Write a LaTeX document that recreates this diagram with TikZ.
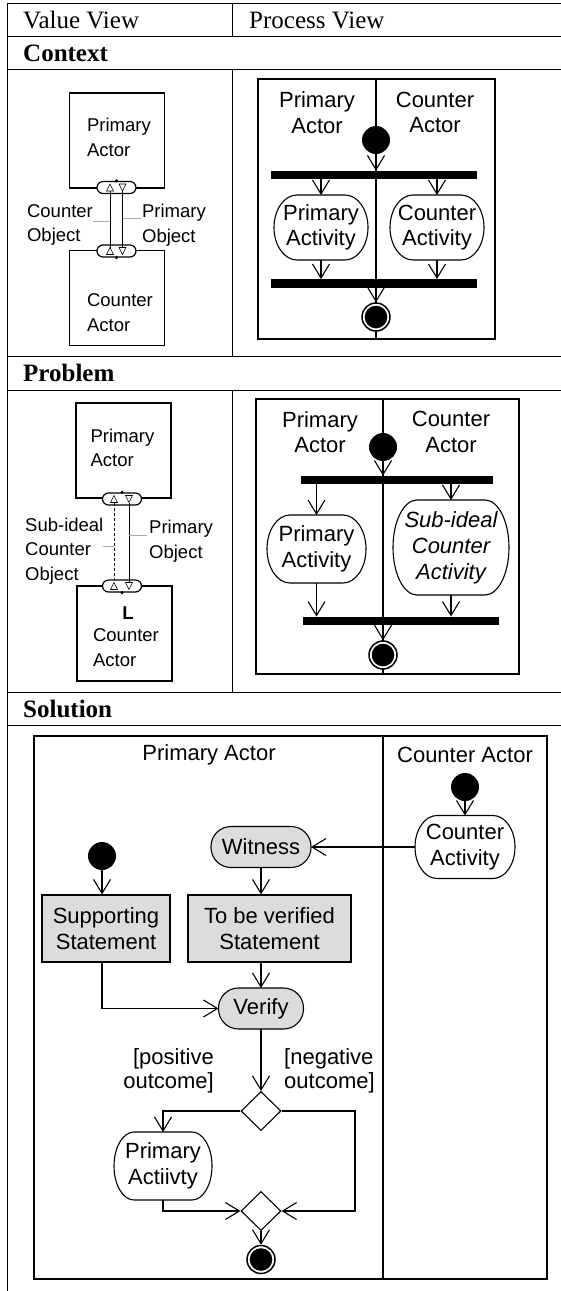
\documentclass[tikz,border=0pt]{standalone}
\usepackage{fontspec}
\setmainfont{Liberation Serif}
\newfontfamily\arialfam{Liberation Sans}
\usetikzlibrary{arrows.meta,shapes.geometric,calc}
\definecolor{actgray}{RGB}{220,220,220}
\definecolor{leadergray}{RGB}{170,170,170}
% small flow-direction triangles inside the ports
\newcommand\uptri[2]{\draw[tri] ({#1-3.5},{#2+3.5}) -- ({#1+3.5},{#2+3.5}) -- ({#1},{#2-3.5}) -- cycle;}
\newcommand\dntri[2]{\draw[tri] ({#1-3.5},{#2-3.5}) -- ({#1+3.5},{#2-3.5}) -- ({#1},{#2+3.5}) -- cycle;}
% activity outline: flat top and bottom, elliptic ends (node name, end x-radius, half height)
\newcommand\actoutline[3]{\draw[line width=1.1pt]
  ([xshift=-#2pt]#1.north east) .. controls ([xshift={-0.4477*#2pt}]#1.north east) and ([yshift={0.5523*#3pt}]#1.east) .. (#1.east)
  .. controls ([yshift={-0.5523*#3pt}]#1.east) and ([xshift={-0.4477*#2pt}]#1.south east) .. ([xshift=-#2pt]#1.south east)
  -- ([xshift=#2pt]#1.south west)
  .. controls ([xshift={0.4477*#2pt}]#1.south west) and ([yshift={-0.5523*#3pt}]#1.west) .. (#1.west)
  .. controls ([yshift={0.5523*#3pt}]#1.west) and ([xshift={0.4477*#2pt}]#1.north west) .. ([xshift=#2pt]#1.north west)
  -- cycle;}
\begin{document}
\begin{tikzpicture}[x=1pt,y=-1pt,
  rule/.style={line width=0.9pt},
  hdr/.style={anchor=base west, inner sep=0pt, font={\fontsize{25}{28}\selectfont}},
  hdrb/.style={anchor=base west, inner sep=0pt, font={\fontsize{25}{28}\selectfont\bfseries}},
  vtxt/.style={inner sep=0pt, align=left, font={\arialfam\fontsize{18.5}{24.5}\selectfont}},
  ptxt/.style={inner sep=0pt, align=center, font={\arialfam\fontsize{22}{25.5}\selectfont}},
  actorbox/.style={draw, line width=1.1pt, minimum width=95pt, minimum height=95pt, inner sep=0pt},
  port/.style={draw, fill=white, line width=1.2pt, rounded corners=6pt, minimum width=39pt, minimum height=12pt, inner sep=0pt},
  tri/.style={line width=0.6pt, fill=white},
  flow/.style={line width=1pt},
  leader/.style={draw=leadergray, line width=0.9pt},
  lane/.style={line width=1.4pt},
  act/.style={rectangle, inner sep=0pt, outer sep=0pt, align=center, font={\arialfam\fontsize{22}{25.5}\selectfont}},
  stad/.style={draw, line width=1.1pt, fill=actgray, rounded corners=20pt, inner sep=0pt, outer sep=0pt, align=center, font={\arialfam\fontsize{22}{25.5}\selectfont}},
  obj/.style={draw, line width=1.1pt, fill=actgray, inner sep=0pt, align=center, font={\arialfam\fontsize{22}{26}\selectfont}},
  bar/.style={fill=black, inner sep=0pt, minimum height=8.5pt},
  init/.style={circle, fill=black, minimum size=28pt, inner sep=0pt},
  fin/.style={circle, draw, line width=1.5pt, fill=white, minimum size=28pt, inner sep=0pt,
    path picture={\fill[black] (path picture bounding box.center) circle (11.3pt);}},
  dec/.style={diamond, draw, line width=1.1pt, fill=white, minimum width=40pt, minimum height=39pt, inner sep=0pt},
  arr/.style={line width=1.1pt, -{Straight Barb[length=14pt,width=17pt]}},
  guard/.style={inner sep=0pt, font={\arialfam\fontsize{22}{24}\selectfont}}
]
\useasboundingbox (0,0) rectangle (561,1291);

% ---------------- table rules ----------------
\foreach \yy in {3,36,69,356,390,692,725} \draw[rule] (7,\yy) -- (561,\yy);
\draw[rule] (7,3) -- (7,1291);
\draw[rule] (232,3) -- (232,36);
\draw[rule] (232,69) -- (232,356);
\draw[rule] (232,390) -- (232,692);

\node[hdr] (hValue) at (23,28) {Value View};
\node[hdr] (hProcess) at (249,28) {Process View};
\node[hdrb] (hContext) at (23,61) {Context};
\node[hdrb] (hProblem) at (23,381) {Problem};
\node[hdrb] (hSolution) at (23,717) {Solution};

% ---------------- Context: value view ----------------
\node[actorbox] (cPA) at (117,140.5) {};
\node[vtxt] (cPAt) at (119,137.5) {Primary\\Actor};
\node[actorbox] (cCA) at (117,298) {};
\node[vtxt] (cCAt) at (120,312.5) {Counter\\Actor};
\node[port] (cP1) at (116.5,187.5) {};
\node[port] (cP2) at (116.5,251) {};
\fill (cP1.north) circle (1.7pt);
\fill (cP2.south) circle (1.7pt);
\draw[flow] (110,191) -- (110,247.5);
\draw[flow] (122.5,191) -- (122.5,247.5);
\uptri{110}{187.5}
\dntri{122.5}{187.5}
\uptri{110}{251}
\dntri{122.5}{251}
\node[vtxt] (cCO) at (60,225) {Counter\\Object};
\node[vtxt] (cPO) at (174,225) {Primary\\Object};
\draw[leader] (93,221.5) -- (109.5,221.5);
\draw[leader] (123,218.5) -- (141,218.5);

% ---------------- Context: process view ----------------
\draw[lane] (258,79) rectangle (495,339);
\draw[lane] (376,79) -- (376,339);
\node[ptxt] (cLabP) at (317,112.5) {Primary\\Actor};
\node[ptxt] (cLabC) at (435,112.5) {Counter\\Actor};
\node[init] (cI) at (376,140) {};
\node[bar, minimum width=206pt] (cF) at (374,175) {};
\node[act, minimum width=94pt, minimum height=65pt] (cA1) at (321,227.5) {Primary\\Activity};
\actoutline{cA1}{23}{32.5}
\node[act, minimum width=94pt, minimum height=65pt] (cA2) at (437,227.5) {Counter\\Activity};
\actoutline{cA2}{23}{32.5}
\node[bar, minimum width=206pt] (cJ) at (374,283.5) {};
\node[fin] (cE) at (376,317) {};
\draw[arr] (cI) -- (cF.north -| cI);
\draw[arr] (cF.south -| cA1) -- (cA1);
\draw[arr] (cF.south -| cA2) -- (cA2);
\draw[arr] (cA1) -- (cJ.north -| cA1);
\draw[arr] (cA2) -- (cJ.north -| cA2);
\draw[arr] (cJ.south -| cE) -- (cE);

% ---------------- Problem: value view ----------------
\node[actorbox] (pPA) at (123.5,450.5) {};
\node[vtxt] (pPAt) at (122.5,448) {Primary\\Actor};
\node[actorbox] (pCA) at (124.5,633.5) {};
\node[vtxt, font={\arialfam\bfseries\fontsize{18.5}{24.5}\selectfont}] (pL) at (128,613) {L};
\node[vtxt] (pCAt) at (126,647.5) {Counter\\Actor};
\node[port] (pP1) at (122,499) {};
\node[port] (pP2) at (122,586) {};
\fill (pP1.north) circle (1.7pt);
\fill (pP2.south) circle (1.7pt);
\draw[flow, dash pattern=on 3pt off 2pt] (114,502.5) -- (114,582.5);
\draw[flow] (129,502.5) -- (129,582.5);
\uptri{114}{499}
\dntri{129}{499}
\uptri{114}{586}
\dntri{129}{586}
\node[vtxt, anchor=west] (pCO) at (25,551) {Sub-ideal\\Counter\\Object};
\node[vtxt, anchor=west] (pPO) at (149,541) {Primary\\Object};
\draw[leader] (103,546) -- (114,546);
\draw[leader] (129,535.5) -- (147,535.5);

% ---------------- Problem: process view ----------------
\draw[lane] (256,399) rectangle (519,674);
\draw[lane] (383,399) -- (383,674);
\node[ptxt] (pLabP) at (320,432) {Primary\\Actor};
\node[ptxt] (pLabC) at (451,432) {Counter\\Actor};
\node[init] (pI) at (383,447) {};
\node[bar, minimum width=192pt] (pF) at (397,480) {};
\node[act, minimum width=99pt, minimum height=68pt] (pA1) at (316.5,549) {Primary\\Activity};
\actoutline{pA1}{23}{34}
\node[act, minimum width=116pt, minimum height=95pt, font={\arialfam\itshape\fontsize{22}{26}\selectfont}] (pA2) at (451,547.5) {Sub-ideal\\Counter\\Activity};
\actoutline{pA2}{24}{47.5}
\node[bar, minimum width=196pt] (pJ) at (401,621) {};
\node[fin] (pE) at (383,655) {};
\draw[arr] (pI) -- (pF.north -| pI);
\draw[arr] (pF.south -| pA1) -- (pA1);
\draw[arr] (pF.south -| pA2) -- (pA2);
\draw[arr] (pA1) -- (pJ.north -| pA1);
\draw[arr] (pA2) -- (pJ.north -| pA2);
\draw[arr] (pJ.south -| pE) -- (pE);

% ---------------- Solution ----------------
\draw[lane] (34,736) rectangle (547,1279);
\draw[lane] (383,736) -- (383,1279);
\node[ptxt] (sLabP) at (209,755) {Primary Actor};
\node[ptxt] (sLabC) at (465,755) {Counter Actor};
\node[init] (sI2) at (465,787) {};
\node[act, minimum width=100pt, minimum height=63pt] (sCA) at (465,847) {Counter\\Activity};
\actoutline{sCA}{22}{31.5}
\node[stad, minimum width=100pt, minimum height=41pt] (sW) at (261,847) {Witness};
\node[init] (sI1) at (102,856) {};
\node[obj, minimum width=128pt, minimum height=67pt] (sSS) at (106,928.5) {Supporting\\Statement};
\node[obj, minimum width=163pt, minimum height=67pt] (sTV) at (269.5,928.5) {To be verified\\Statement};
\node[stad, minimum width=85pt, minimum height=41pt] (sV) at (261,1008.5) {Verify};
\node[dec] (sD1) at (261,1111) {};
\node[act, minimum width=98pt, minimum height=68pt] (sPA) at (163,1166) {Primary\\Actiivty};
\actoutline{sPA}{20}{34}
\node[dec] (sD2) at (261,1211) {};
\node[fin] (sE) at (261,1259.5) {};
\node[guard, align=right, anchor=east] (sGp) at (214,1071) {[positive\\outcome]};
\node[guard, align=left, anchor=west] (sGn) at (284,1071) {[negative\\outcome]};
\coordinate (sR) at (355,1211);

\draw[arr] (sI2) -- (sCA);
\draw[arr] (sCA) -- (sW);
\draw[arr] (sW) -- (sW |- sTV.north);
\draw[arr] (sI1) -- (sI1 |- sSS.north);
\draw[arr] (sTV.south -| sV) -- (sV);
\draw[arr] (sSS.south -| sI1) |- (sV);
\draw[arr] (sV) -- (sD1);
\draw[arr] (sD1.west) -| (sPA);
\draw[arr] (sD1.east) -| (sR) -- (sD2.east);
\draw[arr] (sPA) |- (sD2.west);
\draw[arr] (sD2) -- (sE);
\end{tikzpicture}
\end{document}
